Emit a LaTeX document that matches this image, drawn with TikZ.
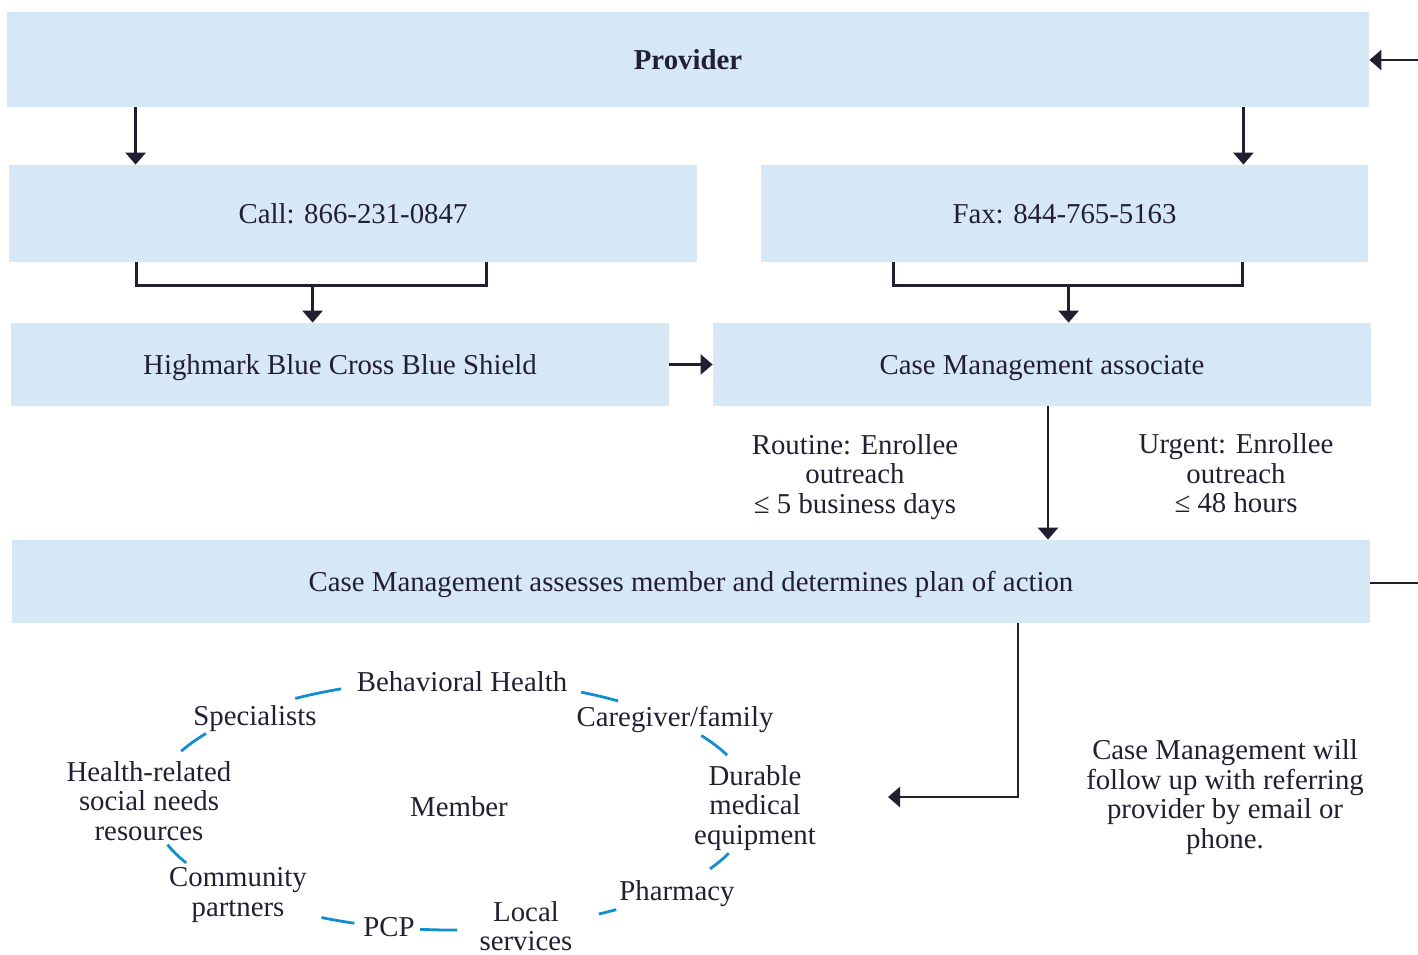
\documentclass[tikz,border=0pt]{standalone}
\usepackage{fontspec}
\setmainfont{Liberation Serif}
\usetikzlibrary{arrows.meta,calc}
\definecolor{boxblue}{RGB}{214,231,245}
\definecolor{ink}{RGB}{35,31,50}
\definecolor{ringblue}{RGB}{20,140,210}

\begin{document}
\begin{tikzpicture}
[x=0.5pt, y=-0.5pt,
box/.style={fill=boxblue, inner sep=0pt, text depth=0pt, text=ink, font=\fontsize{14.4}{15}\selectfont},
lbl/.style={inner sep=0pt, align=center, yshift=-1.5pt, text=ink, font=\fontsize{14.4}{14.8}\selectfont},
line/.style={ink, line width=1.4pt},
arr/.style={line, -{Triangle[width=10pt,length=6pt]}},
ringarc/.style={ringblue, line width=1.4pt},
]
\useasboundingbox (0,0) rectangle (1418,954);

% boxes
\node[box, minimum width=681pt, minimum height=47.5pt] (provider) at (688,59.5) {\textbf{Provider}};
\node[box, minimum width=344pt, minimum height=48.5pt] (call) at (353,213.5) {Call: 866-231-0847};
\node[box, minimum width=303.5pt, minimum height=48.5pt] (fax) at (1064.5,213.5) {Fax: 844-765-5163};
\node[box, minimum width=329pt, minimum height=41.5pt] (highmark) at (340,364.5) {Highmark Blue Cross Blue Shield};
\node[box, minimum width=329pt, minimum height=41.5pt] (cma) at (1042,364.5) {Case Management associate};
\node[box, minimum width=679pt, minimum height=41.5pt] (assess) at (691,581.5) {Case Management assesses member and determines plan of action};

% provider to call and fax
\path ($(call.north west)+(127,0)$) coordinate (callin);
\draw[arr] (provider.south -| callin) -- (callin);
\path ($(fax.north east)+(-125,0)$) coordinate (faxin);
\draw[arr] (provider.south -| faxin) -- (faxin);

% brackets
\draw[line] ($(call.south west)+(128,0)$) -- ++(0,23) -| ($(call.south west)+(478,0)$);
\path ($(call.south west)+(304,23)$) coordinate (calljoin);
\draw[arr] (calljoin) -- (calljoin |- highmark.north);
\draw[line] ($(fax.south west)+(133,0)$) -- ++(0,23) -| ($(fax.south west)+(482,0)$);
\path ($(fax.south west)+(308,23)$) coordinate (faxjoin);
\draw[arr] (faxjoin) -- (faxjoin |- cma.north);

\draw[arr] (highmark) -- (cma);
\path ($(cma.south)+(6,0)$) coordinate (cmaout);
\draw[arr] (cmaout) -- (cmaout |- assess.north);

% loop on the right edge
\coordinate (loopout) at (1418,583);
\coordinate (loopin) at (1418,60);
\draw[line] (assess.east |- loopout) -- (loopout);
\draw[arr] (loopin) -- (provider.east |- loopin);

% outreach labels
\node[lbl] (routine) at (855,474) {Routine: Enrollee\\outreach\\≤ 5 business days};
\node[lbl] (urgent) at (1236,470.5) {Urgent: Enrollee\\outreach\\≤ 48 hours};
\node[lbl] (followup) at (1225,794) {Case Management will\\follow up with referring\\provider by email or\\phone.};

% member ring
\coordinate (ring) at (452,805);
\coordinate (ringin) at (888,797);
\path ($(assess.south)+(327,0)$) coordinate (assessout);
\draw[arr] (assessout) |- (ringin);

\node[lbl] (member) at (459,804) {Member};
\node[lbl] (behav) at (462,679) {Behavioral Health};
\node[lbl] (care) at (675,716) {Caregiver/family};
\node[lbl] (dme) at (755,805) {Durable\\medical\\equipment};
\node[lbl] (pharm) at (677,891) {Pharmacy};
\node[lbl] (local) at (526,923) {Local\\services};
\node[lbl] (pcp) at (389,924) {PCP};
\node[lbl] (comm) at (238,892) {Community\\partners};
\node[lbl] (hrsn) at (149,798) {Health-related\\social needs\\resources};
\node[lbl] (spec) at (255,716) {Specialists};

\foreach \a/\b in {238.5/248.3, 295.5/303.6, 326.2/336.5, 22.7/30.7, 56.8/60.7,
                   89/96.1, 109/115.8, 152.4/161.5, 205.5/214.9}
  \draw[ringarc] ($(ring)+(\a:300 and 125)$) arc[start angle=\a, end angle=\b, x radius=300, y radius=125];
\end{tikzpicture}
\end{document}
